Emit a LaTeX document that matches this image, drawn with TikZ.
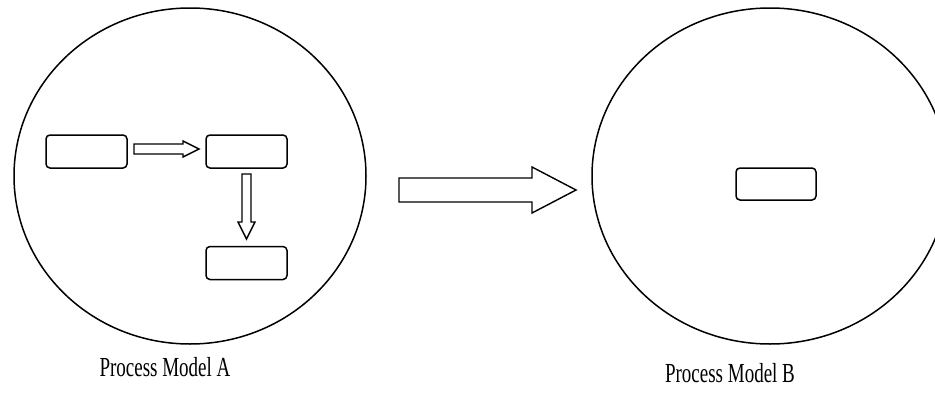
\documentclass[tikz,border=0pt]{standalone}
\usepackage{fontspec}
\setmainfont{Liberation Serif}
\usetikzlibrary{shapes.geometric}
\begin{document}
\begin{tikzpicture}[x=1pt,y=-1pt,
  ring/.style={draw, ellipse, line width=1.5pt, inner sep=0pt},
  box/.style={draw, rounded corners=4pt, line width=1.5pt, minimum width=81pt, minimum height=33pt, inner sep=0pt},
  blockarrow/.style={draw, line width=1.4pt, line join=miter},
  caption/.style={font=\fontsize{19pt}{22pt}\selectfont, inner sep=0pt}]
\useasboundingbox (0,0) rectangle (935,415);
\clip (0,0) rectangle (935,415);
% circles
\node[ring, minimum width=352pt, minimum height=336pt] (ca) at (190,176) {};
\node[ring, minimum width=356pt, minimum height=336pt] (cb) at (770,176) {};
% boxes in model A
\node[box] (a1) at (86.5,151.5) {};
\node[box] (a2) at (246.5,151.5) {};
\node[box] (a3) at (246.5,263) {};
% box in model B
\node[box, minimum width=80pt, minimum height=32pt] (b1) at (776,184) {};
% small horizontal block arrow
\draw[blockarrow] (134,144) -- (183,144) -- (183,141) -- (199,149) -- (183,157) -- (183,154) -- (134,154) -- cycle;
% small vertical block arrow
\draw[blockarrow] (242,174) -- (242,222) -- (238,222) -- (246.5,239) -- (255,222) -- (251,222) -- (251,174) -- cycle;
% big block arrow
\draw[blockarrow] (399,178) -- (532,178) -- (532,167) -- (576,190) -- (532,213) -- (532,202) -- (399,202) -- cycle;
% captions
\node[caption] (la) at (165,367) {\scalebox{1}[1.45]{Process Model A}};
\node[caption] (lb) at (730,373) {\scalebox{1}[1.45]{Process Model B}};
\end{tikzpicture}
\end{document}
